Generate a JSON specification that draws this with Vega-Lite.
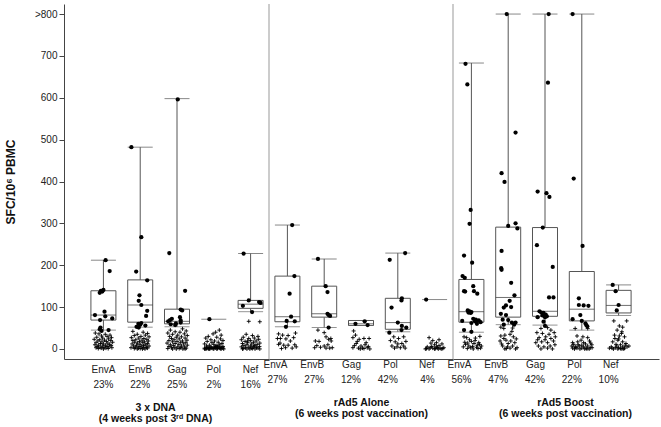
{
"$schema": "https://vega.github.io/schema/vega-lite/v6.json",
"background": "white",
"padding": {"left": 4, "top": 3, "right": 2, "bottom": 3},
"spacing": 0,
"bounds": "flush",
"config": {
  "view": {"stroke": null},
  "font": "Liberation Sans, sans-serif",
  "axis": {"labelFont": "Liberation Sans, sans-serif", "labelFontSize": 10, "labelColor": "#222", "domainColor": "#444", "tickColor": "#444", "grid": false, "titleFont": "Liberation Sans, sans-serif", "titleFontWeight": "bold", "titleColor": "#111", "titleFontSize": 10.5}
},
"datasets": {
"b1": [
{"k":"EnvA|23%","lo":45,"q1":69,"med":81,"q3":139,"hi":212},
{"k":"EnvB|22%","lo":52,"q1":64,"med":105,"q3":165,"hi":482},
{"k":"Gag|25%","lo":53,"q1":60,"med":66,"q3":95,"hi":598},
{"k":"Pol|2%","lo":null,"q1":null,"med":null,"q3":null,"hi":71},
{"k":"Nef|16%","lo":89,"q1":97,"med":107,"q3":116,"hi":228}],
"b2": [
{"k":"EnvA|27%","lo":53,"q1":65,"med":77,"q3":174,"hi":296},
{"k":"EnvB|27%","lo":51,"q1":76,"med":84,"q3":150,"hi":215},
{"k":"Gag|12%","lo":56,"q1":56,"med":60,"q3":68,"hi":68},
{"k":"Pol|42%","lo":41,"q1":47,"med":63,"q3":121,"hi":229},
{"k":"Nef|4%","lo":null,"q1":null,"med":null,"q3":null,"hi":118}],
"b3": [
{"k":"EnvA|56%","lo":40,"q1":64,"med":89,"q3":166,"hi":683},
{"k":"EnvB|47%","lo":58,"q1":76,"med":123,"q3":291,"hi":800},
{"k":"Gag|42%","lo":57,"q1":78,"med":90,"q3":290,"hi":800},
{"k":"Pol|22%","lo":45,"q1":67,"med":95,"q3":185,"hi":800},
{"k":"Nef|10%","lo":80,"q1":86,"med":104,"q3":140,"hi":153}],
"p1": [
{"k":"EnvA|23%","v":212,"j":0.06,"r":1},{"k":"EnvA|23%","v":186,"j":0.17,"r":1},{"k":"EnvA|23%","v":141,"j":0,"r":1},{"k":"EnvA|23%","v":139,"j":-0.07,"r":1},{"k":"EnvA|23%","v":137,"j":-0.03,"r":1},{"k":"EnvA|23%","v":134,"j":-0.1,"r":1},{"k":"EnvA|23%","v":89,"j":0.03,"r":1},{"k":"EnvA|23%","v":81,"j":-0.23,"r":1},{"k":"EnvA|23%","v":78,"j":0.05,"r":1},{"k":"EnvA|23%","v":73,"j":0.24,"r":1},{"k":"EnvA|23%","v":69,"j":-0.09,"r":1},{"k":"EnvA|23%","v":51,"j":-0.08,"r":1},{"k":"EnvA|23%","v":47,"j":-0.1,"r":1},{"k":"EnvA|23%","v":45,"j":0.14,"r":1},{"k":"EnvA|23%","v":43,"j":-0.05,"r":1},
{"k":"EnvA|23%","v":38,"j":-0.22,"r":0},{"k":"EnvA|23%","v":36,"j":-0.12,"r":0},{"k":"EnvA|23%","v":35,"j":0.05,"r":0},{"k":"EnvA|23%","v":33,"j":0.18,"r":0},{"k":"EnvA|23%","v":31,"j":-0.05,"r":0},{"k":"EnvA|23%","v":30,"j":0.1,"r":0},{"k":"EnvA|23%","v":28,"j":-0.18,"r":0},{"k":"EnvA|23%","v":27,"j":0.22,"r":0},{"k":"EnvA|23%","v":26,"j":-0.02,"r":0},{"k":"EnvA|23%","v":24,"j":0.14,"r":0},{"k":"EnvA|23%","v":23,"j":-0.25,"r":0},{"k":"EnvA|23%","v":22,"j":-0.1,"r":0},{"k":"EnvA|23%","v":21,"j":0.03,"r":0},{"k":"EnvA|23%","v":20,"j":0.2,"r":0},{"k":"EnvA|23%","v":19,"j":-0.15,"r":0},{"k":"EnvA|23%","v":18,"j":0.08,"r":0},{"k":"EnvA|23%","v":17,"j":-0.04,"r":0},{"k":"EnvA|23%","v":16,"j":0.25,"r":0},{"k":"EnvA|23%","v":15,"j":-0.2,"r":0},{"k":"EnvA|23%","v":14,"j":0.12,"r":0},{"k":"EnvA|23%","v":13,"j":-0.08,"r":0},{"k":"EnvA|23%","v":12,"j":0,"r":0},{"k":"EnvA|23%","v":11,"j":0.17,"r":0},{"k":"EnvA|23%","v":10,"j":-0.23,"r":0},{"k":"EnvA|23%","v":9,"j":-0.13,"r":0},{"k":"EnvA|23%","v":9,"j":0.06,"r":0},{"k":"EnvA|23%","v":8,"j":0.21,"r":0},{"k":"EnvA|23%","v":7,"j":-0.03,"r":0},{"k":"EnvA|23%","v":6,"j":0.1,"r":0},{"k":"EnvA|23%","v":6,"j":-0.17,"r":0},{"k":"EnvA|23%","v":5,"j":0.15,"r":0},{"k":"EnvA|23%","v":4,"j":-0.09,"r":0},{"k":"EnvA|23%","v":4,"j":0.02,"r":0},{"k":"EnvA|23%","v":3,"j":0.23,"r":0},{"k":"EnvA|23%","v":3,"j":-0.2,"r":0},{"k":"EnvA|23%","v":2,"j":0.07,"r":0},{"k":"EnvA|23%","v":2,"j":-0.06,"r":0},{"k":"EnvA|23%","v":1,"j":0.13,"r":0},{"k":"EnvA|23%","v":1,"j":-0.14,"r":0},{"k":"EnvA|23%","v":0,"j":0,"r":0},
{"k":"EnvB|22%","v":482,"j":-0.24,"r":1},{"k":"EnvB|22%","v":267,"j":0.03,"r":1},{"k":"EnvB|22%","v":185,"j":-0.11,"r":1},{"k":"EnvB|22%","v":164,"j":0.19,"r":1},{"k":"EnvB|22%","v":128,"j":-0.02,"r":1},{"k":"EnvB|22%","v":115,"j":-0.04,"r":1},{"k":"EnvB|22%","v":105,"j":0.03,"r":1},{"k":"EnvB|22%","v":91,"j":0.19,"r":1},{"k":"EnvB|22%","v":79,"j":0.16,"r":1},{"k":"EnvB|22%","v":62,"j":0.03,"r":1},{"k":"EnvB|22%","v":60,"j":-0.05,"r":1},{"k":"EnvB|22%","v":58,"j":0,"r":1},{"k":"EnvB|22%","v":56,"j":0.14,"r":1},{"k":"EnvB|22%","v":53,"j":-0.1,"r":1},{"k":"EnvB|22%","v":51,"j":-0.04,"r":1},
{"k":"EnvB|22%","v":42,"j":-0.2,"r":0},{"k":"EnvB|22%","v":40,"j":0.08,"r":0},{"k":"EnvB|22%","v":37,"j":0.2,"r":0},{"k":"EnvB|22%","v":35,"j":-0.08,"r":0},{"k":"EnvB|22%","v":33,"j":0.14,"r":0},{"k":"EnvB|22%","v":32,"j":-0.16,"r":0},{"k":"EnvB|22%","v":30,"j":0.02,"r":0},{"k":"EnvB|22%","v":29,"j":0.24,"r":0},{"k":"EnvB|22%","v":27,"j":-0.24,"r":0},{"k":"EnvB|22%","v":26,"j":-0.04,"r":0},{"k":"EnvB|22%","v":25,"j":0.1,"r":0},{"k":"EnvB|22%","v":23,"j":0.18,"r":0},{"k":"EnvB|22%","v":22,"j":-0.12,"r":0},{"k":"EnvB|22%","v":21,"j":0.05,"r":0},{"k":"EnvB|22%","v":20,"j":-0.2,"r":0},{"k":"EnvB|22%","v":19,"j":0.22,"r":0},{"k":"EnvB|22%","v":18,"j":-0.02,"r":0},{"k":"EnvB|22%","v":17,"j":0.12,"r":0},{"k":"EnvB|22%","v":16,"j":-0.15,"r":0},{"k":"EnvB|22%","v":15,"j":0.07,"r":0},{"k":"EnvB|22%","v":14,"j":-0.07,"r":0},{"k":"EnvB|22%","v":13,"j":0.2,"r":0},{"k":"EnvB|22%","v":12,"j":-0.22,"r":0},{"k":"EnvB|22%","v":11,"j":0,"r":0},{"k":"EnvB|22%","v":10,"j":0.15,"r":0},{"k":"EnvB|22%","v":9,"j":-0.1,"r":0},{"k":"EnvB|22%","v":8,"j":0.09,"r":0},{"k":"EnvB|22%","v":7,"j":-0.18,"r":0},{"k":"EnvB|22%","v":7,"j":0.24,"r":0},{"k":"EnvB|22%","v":6,"j":-0.03,"r":0},{"k":"EnvB|22%","v":5,"j":0.04,"r":0},{"k":"EnvB|22%","v":4,"j":0.17,"r":0},{"k":"EnvB|22%","v":4,"j":-0.13,"r":0},{"k":"EnvB|22%","v":3,"j":-0.25,"r":0},{"k":"EnvB|22%","v":3,"j":0.1,"r":0},{"k":"EnvB|22%","v":2,"j":-0.05,"r":0},{"k":"EnvB|22%","v":2,"j":0.2,"r":0},{"k":"EnvB|22%","v":1,"j":0,"r":0},{"k":"EnvB|22%","v":1,"j":-0.16,"r":0},{"k":"EnvB|22%","v":0,"j":0.13,"r":0},{"k":"EnvB|22%","v":0,"j":-0.08,"r":0},{"k":"EnvB|22%","v":0,"j":0.06,"r":0},
{"k":"Gag|25%","v":596,"j":0.02,"r":1},{"k":"Gag|25%","v":229,"j":-0.21,"r":1},{"k":"Gag|25%","v":139,"j":0.22,"r":1},{"k":"Gag|25%","v":94,"j":0.1,"r":1},{"k":"Gag|25%","v":92,"j":0.14,"r":1},{"k":"Gag|25%","v":76,"j":0.08,"r":1},{"k":"Gag|25%","v":72,"j":-0.14,"r":1},{"k":"Gag|25%","v":69,"j":-0.19,"r":1},{"k":"Gag|25%","v":68,"j":0.1,"r":1},{"k":"Gag|25%","v":66,"j":-0.24,"r":1},{"k":"Gag|25%","v":63,"j":0.1,"r":1},{"k":"Gag|25%","v":61,"j":-0.03,"r":1},{"k":"Gag|25%","v":59,"j":-0.17,"r":1},{"k":"Gag|25%","v":57,"j":-0.05,"r":1},
{"k":"Gag|25%","v":48,"j":0.15,"r":0},{"k":"Gag|25%","v":45,"j":-0.18,"r":0},{"k":"Gag|25%","v":43,"j":0.25,"r":0},{"k":"Gag|25%","v":41,"j":-0.05,"r":0},{"k":"Gag|25%","v":40,"j":0.08,"r":0},{"k":"Gag|25%","v":38,"j":-0.25,"r":0},{"k":"Gag|25%","v":36,"j":0.2,"r":0},{"k":"Gag|25%","v":35,"j":-0.12,"r":0},{"k":"Gag|25%","v":33,"j":0.02,"r":0},{"k":"Gag|25%","v":32,"j":0.28,"r":0},{"k":"Gag|25%","v":30,"j":-0.2,"r":0},{"k":"Gag|25%","v":29,"j":0.12,"r":0},{"k":"Gag|25%","v":28,"j":-0.02,"r":0},{"k":"Gag|25%","v":26,"j":0.22,"r":0},{"k":"Gag|25%","v":25,"j":-0.15,"r":0},{"k":"Gag|25%","v":24,"j":0.06,"r":0},{"k":"Gag|25%","v":22,"j":-0.08,"r":0},{"k":"Gag|25%","v":21,"j":0.27,"r":0},{"k":"Gag|25%","v":20,"j":-0.22,"r":0},{"k":"Gag|25%","v":19,"j":0.15,"r":0},{"k":"Gag|25%","v":18,"j":0,"r":0},{"k":"Gag|25%","v":17,"j":-0.12,"r":0},{"k":"Gag|25%","v":16,"j":0.1,"r":0},{"k":"Gag|25%","v":15,"j":0.24,"r":0},{"k":"Gag|25%","v":14,"j":-0.27,"r":0},{"k":"Gag|25%","v":13,"j":-0.05,"r":0},{"k":"Gag|25%","v":12,"j":0.18,"r":0},{"k":"Gag|25%","v":11,"j":0.05,"r":0},{"k":"Gag|25%","v":10,"j":-0.18,"r":0},{"k":"Gag|25%","v":9,"j":0.28,"r":0},{"k":"Gag|25%","v":8,"j":-0.1,"r":0},{"k":"Gag|25%","v":7,"j":0.12,"r":0},{"k":"Gag|25%","v":6,"j":-0.22,"r":0},{"k":"Gag|25%","v":5,"j":0.02,"r":0},{"k":"Gag|25%","v":5,"j":0.2,"r":0},{"k":"Gag|25%","v":4,"j":-0.06,"r":0},{"k":"Gag|25%","v":3,"j":0.1,"r":0},{"k":"Gag|25%","v":3,"j":-0.15,"r":0},{"k":"Gag|25%","v":2,"j":0.25,"r":0},{"k":"Gag|25%","v":1,"j":-0.25,"r":0},{"k":"Gag|25%","v":1,"j":0.06,"r":0},{"k":"Gag|25%","v":0,"j":-0.02,"r":0},{"k":"Gag|25%","v":0,"j":0.16,"r":0},{"k":"Gag|25%","v":0,"j":-0.12,"r":0},{"k":"Gag|25%","v":0,"j":0.22,"r":0},
{"k":"Pol|2%","v":71,"j":-0.12,"r":1},
{"k":"Pol|2%","v":45,"j":0.15,"r":0},{"k":"Pol|2%","v":40,"j":0.05,"r":0},{"k":"Pol|2%","v":36,"j":-0.02,"r":0},{"k":"Pol|2%","v":33,"j":0.2,"r":0},{"k":"Pol|2%","v":30,"j":-0.15,"r":0},{"k":"Pol|2%","v":28,"j":0.08,"r":0},{"k":"Pol|2%","v":26,"j":-0.22,"r":0},{"k":"Pol|2%","v":24,"j":0.18,"r":0},{"k":"Pol|2%","v":22,"j":-0.08,"r":0},{"k":"Pol|2%","v":20,"j":0.25,"r":0},{"k":"Pol|2%","v":19,"j":0.02,"r":0},{"k":"Pol|2%","v":18,"j":-0.18,"r":0},{"k":"Pol|2%","v":16,"j":0.12,"r":0},{"k":"Pol|2%","v":15,"j":-0.05,"r":0},{"k":"Pol|2%","v":13,"j":0.22,"r":0},{"k":"Pol|2%","v":12,"j":-0.25,"r":0},{"k":"Pol|2%","v":11,"j":0,"r":0},{"k":"Pol|2%","v":10,"j":0.15,"r":0},{"k":"Pol|2%","v":9,"j":-0.12,"r":0},{"k":"Pol|2%","v":8,"j":0.08,"r":0},{"k":"Pol|2%","v":7,"j":-0.2,"r":0},{"k":"Pol|2%","v":6,"j":0.25,"r":0},{"k":"Pol|2%","v":6,"j":0.04,"r":0},{"k":"Pol|2%","v":5,"j":-0.08,"r":0},{"k":"Pol|2%","v":5,"j":0.17,"r":0},{"k":"Pol|2%","v":2,"j":-0.25,"r":0},{"k":"Pol|2%","v":1,"j":-0.2,"r":0},{"k":"Pol|2%","v":3,"j":-0.15,"r":0},{"k":"Pol|2%","v":1,"j":-0.1,"r":0},{"k":"Pol|2%","v":2,"j":-0.05,"r":0},{"k":"Pol|2%","v":0,"j":0,"r":0},{"k":"Pol|2%","v":3,"j":0.05,"r":0},{"k":"Pol|2%","v":1,"j":0.1,"r":0},{"k":"Pol|2%","v":2,"j":0.15,"r":0},{"k":"Pol|2%","v":0,"j":0.2,"r":0},{"k":"Pol|2%","v":2,"j":0.25,"r":0},{"k":"Pol|2%","v":0,"j":-0.22,"r":0},{"k":"Pol|2%","v":0,"j":-0.12,"r":0},{"k":"Pol|2%","v":1,"j":-0.02,"r":0},{"k":"Pol|2%","v":0,"j":0.08,"r":0},{"k":"Pol|2%","v":1,"j":0.18,"r":0},{"k":"Pol|2%","v":4,"j":-0.18,"r":0},{"k":"Pol|2%","v":4,"j":0.12,"r":0},{"k":"Pol|2%","v":4,"j":0.02,"r":0},{"k":"Pol|2%","v":3,"j":-0.07,"r":0},{"k":"Pol|2%","v":3,"j":0.22,"r":0},{"k":"Pol|2%","v":0,"j":-0.25,"r":0},{"k":"Pol|2%","v":0,"j":0.27,"r":0},{"k":"Pol|2%","v":0,"j":-0.15,"r":0},{"k":"Pol|2%","v":5,"j":0.1,"r":0},
{"k":"Nef|16%","v":228,"j":-0.19,"r":1},{"k":"Nef|16%","v":116,"j":-0.05,"r":1},{"k":"Nef|16%","v":112,"j":0.23,"r":1},{"k":"Nef|16%","v":110,"j":0.27,"r":1},{"k":"Nef|16%","v":103,"j":-0.21,"r":1},{"k":"Nef|16%","v":88,"j":0.04,"r":1},
{"k":"Nef|16%","v":66,"j":-0.05,"r":0},{"k":"Nef|16%","v":65,"j":0.25,"r":0},{"k":"Nef|16%","v":35,"j":-0.12,"r":0},{"k":"Nef|16%","v":32,"j":0.05,"r":0},{"k":"Nef|16%","v":30,"j":0.2,"r":0},{"k":"Nef|16%","v":28,"j":-0.2,"r":0},{"k":"Nef|16%","v":26,"j":0.1,"r":0},{"k":"Nef|16%","v":25,"j":-0.05,"r":0},{"k":"Nef|16%","v":23,"j":0.22,"r":0},{"k":"Nef|16%","v":22,"j":-0.25,"r":0},{"k":"Nef|16%","v":20,"j":0,"r":0},{"k":"Nef|16%","v":19,"j":0.15,"r":0},{"k":"Nef|16%","v":18,"j":-0.15,"r":0},{"k":"Nef|16%","v":16,"j":0.08,"r":0},{"k":"Nef|16%","v":15,"j":-0.08,"r":0},{"k":"Nef|16%","v":14,"j":0.25,"r":0},{"k":"Nef|16%","v":13,"j":-0.22,"r":0},{"k":"Nef|16%","v":12,"j":0.03,"r":0},{"k":"Nef|16%","v":11,"j":0.18,"r":0},{"k":"Nef|16%","v":10,"j":-0.1,"r":0},{"k":"Nef|16%","v":9,"j":0.12,"r":0},{"k":"Nef|16%","v":8,"j":-0.18,"r":0},{"k":"Nef|16%","v":7,"j":0,"r":0},{"k":"Nef|16%","v":6,"j":0.24,"r":0},{"k":"Nef|16%","v":5,"j":-0.25,"r":0},{"k":"Nef|16%","v":5,"j":0.08,"r":0},{"k":"Nef|16%","v":4,"j":-0.05,"r":0},{"k":"Nef|16%","v":3,"j":0.16,"r":0},{"k":"Nef|16%","v":3,"j":-0.14,"r":0},{"k":"Nef|16%","v":2,"j":0.2,"r":0},{"k":"Nef|16%","v":1,"j":-0.2,"r":0},{"k":"Nef|16%","v":1,"j":0.05,"r":0},{"k":"Nef|16%","v":0,"j":-0.02,"r":0},{"k":"Nef|16%","v":0,"j":0.12,"r":0},{"k":"Nef|16%","v":0,"j":-0.1,"r":0},{"k":"Nef|16%","v":0,"j":0.25,"r":0},{"k":"Nef|16%","v":0,"j":-0.22,"r":0},{"k":"Nef|16%","v":2,"j":0.02,"r":0},{"k":"Nef|16%","v":7,"j":0.1,"r":0},{"k":"Nef|16%","v":19,"j":-0.08,"r":0}],
"p2": [
{"k":"EnvA|27%","v":296,"j":0.13,"r":1},{"k":"EnvA|27%","v":174,"j":0.19,"r":1},{"k":"EnvA|27%","v":132,"j":0.06,"r":1},{"k":"EnvA|27%","v":77,"j":0.1,"r":1},{"k":"EnvA|27%","v":67,"j":-0.02,"r":1},{"k":"EnvA|27%","v":66,"j":0.2,"r":1},{"k":"EnvA|27%","v":53,"j":-0.04,"r":1},
{"k":"EnvA|27%","v":36,"j":-0.24,"r":0},{"k":"EnvA|27%","v":33,"j":-0.13,"r":0},{"k":"EnvA|27%","v":32,"j":0.02,"r":0},{"k":"EnvA|27%","v":38,"j":0.22,"r":0},{"k":"EnvA|27%","v":25,"j":-0.27,"r":0},{"k":"EnvA|27%","v":25,"j":-0.19,"r":0},{"k":"EnvA|27%","v":24,"j":-0.04,"r":0},{"k":"EnvA|27%","v":27,"j":0.17,"r":0},{"k":"EnvA|27%","v":19,"j":0.08,"r":0},{"k":"EnvA|27%","v":11,"j":-0.24,"r":0},{"k":"EnvA|27%","v":9,"j":-0.1,"r":0},{"k":"EnvA|27%","v":9,"j":0.02,"r":0},{"k":"EnvA|27%","v":10,"j":0.2,"r":0},{"k":"EnvA|27%","v":3,"j":-0.05,"r":0},{"k":"EnvA|27%","v":2,"j":0.13,"r":0},{"k":"EnvA|27%","v":1,"j":-0.16,"r":0},{"k":"EnvA|27%","v":5,"j":0.24,"r":0},{"k":"EnvA|27%","v":14,"j":-0.2,"r":0},
{"k":"EnvB|27%","v":215,"j":-0.17,"r":1},{"k":"EnvB|27%","v":150,"j":0.04,"r":1},{"k":"EnvB|27%","v":136,"j":0.09,"r":1},{"k":"EnvB|27%","v":84,"j":0.09,"r":1},{"k":"EnvB|27%","v":81,"j":0.12,"r":1},{"k":"EnvB|27%","v":79,"j":0.16,"r":1},{"k":"EnvB|27%","v":51,"j":0.12,"r":1},
{"k":"EnvB|27%","v":45,"j":-0.17,"r":0},{"k":"EnvB|27%","v":39,"j":0,"r":0},{"k":"EnvB|27%","v":19,"j":-0.24,"r":0},{"k":"EnvB|27%","v":18,"j":-0.14,"r":0},{"k":"EnvB|27%","v":29,"j":0.05,"r":0},{"k":"EnvB|27%","v":23,"j":0.12,"r":0},{"k":"EnvB|27%","v":19,"j":0.19,"r":0},{"k":"EnvB|27%","v":3,"j":-0.26,"r":0},{"k":"EnvB|27%","v":4,"j":-0.1,"r":0},{"k":"EnvB|27%","v":7,"j":0,"r":0},{"k":"EnvB|27%","v":2,"j":0.05,"r":0},{"k":"EnvB|27%","v":2,"j":0.15,"r":0},{"k":"EnvB|27%","v":3,"j":0.22,"r":0},{"k":"EnvB|27%","v":10,"j":0.1,"r":0},{"k":"EnvB|27%","v":8,"j":-0.2,"r":0},{"k":"EnvB|27%","v":25,"j":0.18,"r":0},
{"k":"Gag|12%","v":66,"j":0.1,"r":1},{"k":"Gag|12%","v":60,"j":-0.15,"r":1},{"k":"Gag|12%","v":57,"j":0.18,"r":1},
{"k":"Gag|12%","v":43,"j":-0.2,"r":0},{"k":"Gag|12%","v":33,"j":-0.15,"r":0},{"k":"Gag|12%","v":27,"j":-0.22,"r":0},{"k":"Gag|12%","v":23,"j":-0.05,"r":0},{"k":"Gag|12%","v":25,"j":0.08,"r":0},{"k":"Gag|12%","v":25,"j":0.22,"r":0},{"k":"Gag|12%","v":13,"j":-0.13,"r":0},{"k":"Gag|12%","v":7,"j":0,"r":0},{"k":"Gag|12%","v":10,"j":0.11,"r":0},{"k":"Gag|12%","v":3,"j":0.17,"r":0},{"k":"Gag|12%","v":2,"j":0.04,"r":0},{"k":"Gag|12%","v":3,"j":-0.22,"r":0},{"k":"Gag|12%","v":2,"j":-0.07,"r":0},{"k":"Gag|12%","v":6,"j":0.2,"r":0},{"k":"Gag|12%","v":1,"j":0.08,"r":0},{"k":"Gag|12%","v":18,"j":-0.1,"r":0},{"k":"Gag|12%","v":15,"j":0.14,"r":0},{"k":"Gag|12%","v":0,"j":-0.02,"r":0},{"k":"Gag|12%","v":0,"j":0.24,"r":0},{"k":"Gag|12%","v":8,"j":-0.18,"r":0},
{"k":"Pol|42%","v":229,"j":0.2,"r":1},{"k":"Pol|42%","v":213,"j":-0.22,"r":1},{"k":"Pol|42%","v":121,"j":0.11,"r":1},{"k":"Pol|42%","v":116,"j":0.1,"r":1},{"k":"Pol|42%","v":99,"j":-0.17,"r":1},{"k":"Pol|42%","v":63,"j":0,"r":1},{"k":"Pol|42%","v":55,"j":0.11,"r":1},{"k":"Pol|42%","v":51,"j":0.23,"r":1},{"k":"Pol|42%","v":45,"j":0.1,"r":1},{"k":"Pol|42%","v":39,"j":-0.23,"r":1},
{"k":"Pol|42%","v":29,"j":-0.11,"r":0},{"k":"Pol|42%","v":25,"j":0.02,"r":0},{"k":"Pol|42%","v":29,"j":0.16,"r":0},{"k":"Pol|42%","v":17,"j":-0.07,"r":0},{"k":"Pol|42%","v":13,"j":0.11,"r":0},{"k":"Pol|42%","v":7,"j":-0.16,"r":0},{"k":"Pol|42%","v":5,"j":-0.02,"r":0},{"k":"Pol|42%","v":3,"j":0.07,"r":0},{"k":"Pol|42%","v":7,"j":0.16,"r":0},{"k":"Pol|42%","v":2,"j":-0.09,"r":0},{"k":"Pol|42%","v":2,"j":0.2,"r":0},{"k":"Pol|42%","v":12,"j":0,"r":0},{"k":"Pol|42%","v":20,"j":-0.2,"r":0},{"k":"Pol|42%","v":18,"j":0.22,"r":0},
{"k":"Nef|4%","v":118,"j":-0.23,"r":1},
{"k":"Nef|4%","v":27,"j":-0.15,"r":0},{"k":"Nef|4%","v":20,"j":-0.05,"r":0},{"k":"Nef|4%","v":22,"j":0.12,"r":0},{"k":"Nef|4%","v":14,"j":-0.1,"r":0},{"k":"Nef|4%","v":10,"j":0,"r":0},{"k":"Nef|4%","v":12,"j":0.2,"r":0},{"k":"Nef|4%","v":5,"j":-0.2,"r":0},{"k":"Nef|4%","v":3,"j":-0.12,"r":0},{"k":"Nef|4%","v":2,"j":-0.05,"r":0},{"k":"Nef|4%","v":1,"j":0.02,"r":0},{"k":"Nef|4%","v":3,"j":0.08,"r":0},{"k":"Nef|4%","v":2,"j":0.15,"r":0},{"k":"Nef|4%","v":1,"j":0.22,"r":0},{"k":"Nef|4%","v":3,"j":0.25,"r":0},{"k":"Nef|4%","v":1,"j":-0.22,"r":0},{"k":"Nef|4%","v":0,"j":0,"r":0},{"k":"Nef|4%","v":0,"j":0.1,"r":0},{"k":"Nef|4%","v":0,"j":-0.15,"r":0},{"k":"Nef|4%","v":0,"j":0.18,"r":0},{"k":"Nef|4%","v":6,"j":-0.08,"r":0},{"k":"Nef|4%","v":5,"j":0.05,"r":0},{"k":"Nef|4%","v":8,"j":0.12,"r":0},{"k":"Nef|4%","v":0,"j":-0.25,"r":0},{"k":"Nef|4%","v":15,"j":0.05,"r":0}],
"p3": [
{"k":"EnvA|56%","v":681,"j":-0.16,"r":1},{"k":"EnvA|56%","v":632,"j":-0.11,"r":1},{"k":"EnvA|56%","v":332,"j":-0.02,"r":1},{"k":"EnvA|56%","v":299,"j":-0.05,"r":1},{"k":"EnvA|56%","v":223,"j":-0.2,"r":1},{"k":"EnvA|56%","v":206,"j":0.02,"r":1},{"k":"EnvA|56%","v":174,"j":-0.24,"r":1},{"k":"EnvA|56%","v":170,"j":-0.18,"r":1},{"k":"EnvA|56%","v":150,"j":0.05,"r":1},{"k":"EnvA|56%","v":138,"j":-0.2,"r":1},{"k":"EnvA|56%","v":137,"j":-0.17,"r":1},{"k":"EnvA|56%","v":138,"j":0.07,"r":1},{"k":"EnvA|56%","v":132,"j":0.16,"r":1},{"k":"EnvA|56%","v":92,"j":-0.1,"r":1},{"k":"EnvA|56%","v":90,"j":-0.05,"r":1},{"k":"EnvA|56%","v":88,"j":0,"r":1},{"k":"EnvA|56%","v":87,"j":-0.08,"r":1},{"k":"EnvA|56%","v":86,"j":-0.02,"r":1},{"k":"EnvA|56%","v":72,"j":0.05,"r":1},{"k":"EnvA|56%","v":70,"j":0.12,"r":1},{"k":"EnvA|56%","v":68,"j":0.2,"r":1},{"k":"EnvA|56%","v":67,"j":-0.25,"r":1},{"k":"EnvA|56%","v":66,"j":0.1,"r":1},{"k":"EnvA|56%","v":64,"j":0.25,"r":1},{"k":"EnvA|56%","v":62,"j":0,"r":1},{"k":"EnvA|56%","v":60,"j":0.15,"r":1},{"k":"EnvA|56%","v":45,"j":-0.2,"r":1},{"k":"EnvA|56%","v":41,"j":0,"r":1},
{"k":"EnvA|56%","v":29,"j":-0.2,"r":0},{"k":"EnvA|56%","v":27,"j":-0.13,"r":0},{"k":"EnvA|56%","v":26,"j":0.11,"r":0},{"k":"EnvA|56%","v":30,"j":0.23,"r":0},{"k":"EnvA|56%","v":11,"j":-0.16,"r":0},{"k":"EnvA|56%","v":7,"j":-0.07,"r":0},{"k":"EnvA|56%","v":13,"j":0.07,"r":0},{"k":"EnvA|56%","v":15,"j":0.2,"r":0},{"k":"EnvA|56%","v":3,"j":-0.02,"r":0},{"k":"EnvA|56%","v":4,"j":0.14,"r":0},{"k":"EnvA|56%","v":7,"j":0.27,"r":0},{"k":"EnvA|56%","v":1,"j":-0.11,"r":0},{"k":"EnvA|56%","v":0,"j":0.05,"r":0},{"k":"EnvA|56%","v":1,"j":0.18,"r":0},{"k":"EnvA|56%","v":2,"j":0.25,"r":0},{"k":"EnvA|56%","v":5,"j":-0.22,"r":0},{"k":"EnvA|56%","v":18,"j":0,"r":0},{"k":"EnvA|56%","v":20,"j":0.1,"r":0},{"k":"EnvA|56%","v":22,"j":-0.05,"r":0},{"k":"EnvA|56%","v":9,"j":0.16,"r":0},{"k":"EnvA|56%","v":16,"j":-0.18,"r":0},{"k":"EnvA|56%","v":6,"j":0.03,"r":0},{"k":"EnvA|56%","v":11,"j":0.22,"r":0},{"k":"EnvA|56%","v":14,"j":-0.1,"r":0},
{"k":"EnvB|47%","v":800,"j":-0.04,"r":1},{"k":"EnvB|47%","v":517,"j":0.2,"r":1},{"k":"EnvB|47%","v":420,"j":-0.18,"r":1},{"k":"EnvB|47%","v":399,"j":-0.1,"r":1},{"k":"EnvB|47%","v":300,"j":0.2,"r":1},{"k":"EnvB|47%","v":294,"j":0,"r":1},{"k":"EnvB|47%","v":288,"j":0.25,"r":1},{"k":"EnvB|47%","v":234,"j":-0.18,"r":1},{"k":"EnvB|47%","v":193,"j":-0.19,"r":1},{"k":"EnvB|47%","v":189,"j":-0.18,"r":1},{"k":"EnvB|47%","v":158,"j":0.08,"r":1},{"k":"EnvB|47%","v":128,"j":0.17,"r":1},{"k":"EnvB|47%","v":115,"j":0.04,"r":1},{"k":"EnvB|47%","v":104,"j":-0.06,"r":1},{"k":"EnvB|47%","v":100,"j":0.08,"r":1},{"k":"EnvB|47%","v":99,"j":-0.12,"r":1},{"k":"EnvB|47%","v":84,"j":-0.2,"r":1},{"k":"EnvB|47%","v":81,"j":-0.06,"r":1},{"k":"EnvB|47%","v":70,"j":-0.15,"r":1},{"k":"EnvB|47%","v":69,"j":0,"r":1},{"k":"EnvB|47%","v":63,"j":0.1,"r":1},{"k":"EnvB|47%","v":63,"j":0.2,"r":1},{"k":"EnvB|47%","v":58,"j":-0.12,"r":1},{"k":"EnvB|47%","v":58,"j":0.16,"r":1},
{"k":"EnvB|47%","v":52,"j":-0.2,"r":0},{"k":"EnvB|47%","v":49,"j":-0.12,"r":0},{"k":"EnvB|47%","v":50,"j":0.12,"r":0},{"k":"EnvB|47%","v":31,"j":-0.2,"r":0},{"k":"EnvB|47%","v":33,"j":-0.09,"r":0},{"k":"EnvB|47%","v":35,"j":0.05,"r":0},{"k":"EnvB|47%","v":29,"j":0.14,"r":0},{"k":"EnvB|47%","v":19,"j":-0.22,"r":0},{"k":"EnvB|47%","v":21,"j":-0.06,"r":0},{"k":"EnvB|47%","v":19,"j":0.07,"r":0},{"k":"EnvB|47%","v":15,"j":0.18,"r":0},{"k":"EnvB|47%","v":7,"j":-0.15,"r":0},{"k":"EnvB|47%","v":5,"j":-0.02,"r":0},{"k":"EnvB|47%","v":7,"j":0.12,"r":0},{"k":"EnvB|47%","v":3,"j":0.24,"r":0},{"k":"EnvB|47%","v":0,"j":-0.09,"r":0},{"k":"EnvB|47%","v":2,"j":0.05,"r":0},{"k":"EnvB|47%","v":0,"j":0.2,"r":0},{"k":"EnvB|47%","v":12,"j":-0.18,"r":0},{"k":"EnvB|47%","v":13,"j":0,"r":0},{"k":"EnvB|47%","v":24,"j":0.22,"r":0},{"k":"EnvB|47%","v":25,"j":-0.12,"r":0},{"k":"EnvB|47%","v":42,"j":0.1,"r":0},{"k":"EnvB|47%","v":1,"j":-0.05,"r":0},
{"k":"Gag|42%","v":800,"j":0.1,"r":1},{"k":"Gag|42%","v":636,"j":0.08,"r":1},{"k":"Gag|42%","v":376,"j":-0.2,"r":1},{"k":"Gag|42%","v":372,"j":0.04,"r":1},{"k":"Gag|42%","v":363,"j":0.12,"r":1},{"k":"Gag|42%","v":290,"j":-0.06,"r":1},{"k":"Gag|42%","v":248,"j":-0.22,"r":1},{"k":"Gag|42%","v":196,"j":0.21,"r":1},{"k":"Gag|42%","v":123,"j":0.11,"r":1},{"k":"Gag|42%","v":123,"j":0.23,"r":1},{"k":"Gag|42%","v":90,"j":-0.15,"r":1},{"k":"Gag|42%","v":87,"j":-0.1,"r":1},{"k":"Gag|42%","v":86,"j":-0.04,"r":1},{"k":"Gag|42%","v":82,"j":0.02,"r":1},{"k":"Gag|42%","v":80,"j":-0.07,"r":1},{"k":"Gag|42%","v":78,"j":0.05,"r":1},{"k":"Gag|42%","v":76,"j":-0.2,"r":1},{"k":"Gag|42%","v":76,"j":0,"r":1},{"k":"Gag|42%","v":65,"j":-0.04,"r":1},{"k":"Gag|42%","v":55,"j":0,"r":1},
{"k":"Gag|42%","v":49,"j":-0.11,"r":0},{"k":"Gag|42%","v":51,"j":0.07,"r":0},{"k":"Gag|42%","v":45,"j":0.16,"r":0},{"k":"Gag|42%","v":39,"j":-0.22,"r":0},{"k":"Gag|42%","v":37,"j":-0.07,"r":0},{"k":"Gag|42%","v":35,"j":0.11,"r":0},{"k":"Gag|42%","v":39,"j":0.25,"r":0},{"k":"Gag|42%","v":27,"j":-0.16,"r":0},{"k":"Gag|42%","v":29,"j":0.02,"r":0},{"k":"Gag|42%","v":25,"j":0.16,"r":0},{"k":"Gag|42%","v":29,"j":0.28,"r":0},{"k":"Gag|42%","v":15,"j":-0.25,"r":0},{"k":"Gag|42%","v":17,"j":-0.09,"r":0},{"k":"Gag|42%","v":15,"j":0.07,"r":0},{"k":"Gag|42%","v":19,"j":0.23,"r":0},{"k":"Gag|42%","v":7,"j":-0.18,"r":0},{"k":"Gag|42%","v":5,"j":-0.03,"r":0},{"k":"Gag|42%","v":7,"j":0.14,"r":0},{"k":"Gag|42%","v":10,"j":0.27,"r":0},{"k":"Gag|42%","v":0,"j":-0.11,"r":0},{"k":"Gag|42%","v":2,"j":0.07,"r":0},{"k":"Gag|42%","v":0,"j":0.2,"r":0},{"k":"Gag|42%","v":22,"j":0,"r":0},{"k":"Gag|42%","v":22,"j":-0.2,"r":0},
{"k":"Pol|22%","v":800,"j":-0.25,"r":1},{"k":"Pol|22%","v":407,"j":-0.22,"r":1},{"k":"Pol|22%","v":246,"j":0.02,"r":1},{"k":"Pol|22%","v":121,"j":-0.08,"r":1},{"k":"Pol|22%","v":105,"j":-0.08,"r":1},{"k":"Pol|22%","v":104,"j":0.05,"r":1},{"k":"Pol|22%","v":103,"j":0.18,"r":1},{"k":"Pol|22%","v":81,"j":-0.04,"r":1},{"k":"Pol|22%","v":71,"j":-0.25,"r":1},{"k":"Pol|22%","v":67,"j":0,"r":1},{"k":"Pol|22%","v":61,"j":0.1,"r":1},{"k":"Pol|22%","v":57,"j":0.12,"r":1},{"k":"Pol|22%","v":54,"j":0.15,"r":1},
{"k":"Pol|22%","v":49,"j":-0.18,"r":0},{"k":"Pol|22%","v":49,"j":0.16,"r":0},{"k":"Pol|22%","v":31,"j":-0.13,"r":0},{"k":"Pol|22%","v":29,"j":0.03,"r":0},{"k":"Pol|22%","v":27,"j":0.16,"r":0},{"k":"Pol|22%","v":15,"j":-0.25,"r":0},{"k":"Pol|22%","v":17,"j":-0.11,"r":0},{"k":"Pol|22%","v":15,"j":0.05,"r":0},{"k":"Pol|22%","v":19,"j":0.21,"r":0},{"k":"Pol|22%","v":7,"j":-0.27,"r":0},{"k":"Pol|22%","v":5,"j":-0.18,"r":0},{"k":"Pol|22%","v":7,"j":-0.07,"r":0},{"k":"Pol|22%","v":5,"j":0.05,"r":0},{"k":"Pol|22%","v":7,"j":0.16,"r":0},{"k":"Pol|22%","v":10,"j":0.27,"r":0},{"k":"Pol|22%","v":2,"j":-0.25,"r":0},{"k":"Pol|22%","v":2,"j":-0.13,"r":0},{"k":"Pol|22%","v":2,"j":0,"r":0},{"k":"Pol|22%","v":2,"j":0.12,"r":0},{"k":"Pol|22%","v":3,"j":0.23,"r":0},{"k":"Pol|22%","v":3,"j":0.28,"r":0},{"k":"Pol|22%","v":0,"j":-0.2,"r":0},{"k":"Pol|22%","v":0,"j":-0.05,"r":0},{"k":"Pol|22%","v":0,"j":0.08,"r":0},{"k":"Pol|22%","v":0,"j":0.2,"r":0},{"k":"Pol|22%","v":10,"j":-0.1,"r":0},{"k":"Pol|22%","v":12,"j":0.1,"r":0},{"k":"Pol|22%","v":21,"j":-0.02,"r":0},{"k":"Pol|22%","v":14,"j":0.24,"r":0},{"k":"Pol|22%","v":11,"j":-0.22,"r":0},{"k":"Pol|22%","v":9,"j":0,"r":0},{"k":"Pol|22%","v":0,"j":0.14,"r":0},{"k":"Pol|22%","v":4,"j":-0.16,"r":0},
{"k":"Nef|10%","v":153,"j":-0.16,"r":1},{"k":"Nef|10%","v":138,"j":-0.08,"r":1},{"k":"Nef|10%","v":105,"j":0,"r":1},{"k":"Nef|10%","v":92,"j":-0.05,"r":1},
{"k":"Nef|10%","v":67,"j":-0.13,"r":0},{"k":"Nef|10%","v":67,"j":0.22,"r":0},{"k":"Nef|10%","v":55,"j":0.02,"r":0},{"k":"Nef|10%","v":52,"j":0.11,"r":0},{"k":"Nef|10%","v":45,"j":-0.04,"r":0},{"k":"Nef|10%","v":41,"j":0.09,"r":0},{"k":"Nef|10%","v":33,"j":-0.11,"r":0},{"k":"Nef|10%","v":31,"j":0.02,"r":0},{"k":"Nef|10%","v":29,"j":0.16,"r":0},{"k":"Nef|10%","v":21,"j":-0.02,"r":0},{"k":"Nef|10%","v":17,"j":-0.16,"r":0},{"k":"Nef|10%","v":17,"j":0.11,"r":0},{"k":"Nef|10%","v":11,"j":-0.07,"r":0},{"k":"Nef|10%","v":10,"j":0.05,"r":0},{"k":"Nef|10%","v":13,"j":0.2,"r":0},{"k":"Nef|10%","v":5,"j":-0.2,"r":0},{"k":"Nef|10%","v":3,"j":-0.09,"r":0},{"k":"Nef|10%","v":3,"j":0,"r":0},{"k":"Nef|10%","v":5,"j":0.11,"r":0},{"k":"Nef|10%","v":5,"j":0.23,"r":0},{"k":"Nef|10%","v":7,"j":0.28,"r":0},{"k":"Nef|10%","v":2,"j":-0.25,"r":0},{"k":"Nef|10%","v":0,"j":-0.02,"r":0},{"k":"Nef|10%","v":0,"j":0.09,"r":0},{"k":"Nef|10%","v":2,"j":0.16,"r":0},{"k":"Nef|10%","v":0,"j":-0.14,"r":0},{"k":"Nef|10%","v":1,"j":0.05,"r":0},{"k":"Nef|10%","v":7,"j":-0.05,"r":0},{"k":"Nef|10%","v":0,"j":0.14,"r":0},{"k":"Nef|10%","v":9,"j":0.18,"r":0},{"k":"Nef|10%","v":2,"j":-0.18,"r":0},{"k":"Nef|10%","v":24,"j":0,"r":0},{"k":"Nef|10%","v":37,"j":0.08,"r":0},{"k":"Nef|10%","v":25,"j":-0.1,"r":0}]
},
"hconcat": [
{
"width": 205, "height": 355,
"layer": [
{"data": {"name": "b1"}, "transform": [{"filter": "datum.q3 != null"}], "mark": {"type": "rule", "color": "#555"},
 "encoding": {"x": {"field": "k", "type": "nominal", "scale": {"domain": ["EnvA|23%","EnvB|22%","Gag|25%","Pol|2%","Nef|16%"], "paddingInner": 0, "paddingOuter": 0.2856, "align": 1},
   "axis": {"labelExpr": "split(datum.value, '|')", "labelAngle": 0, "ticks": false, "labelPadding": 5, "labelLineHeight": 15, "title": ["3 x DNA", "(4 weeks post 3ʳᵈ DNA)"], "titlePadding": 13, "titleLineHeight": 11, "titleX": 91, "titleAlign": "center"}},
  "y": {"field": "q3", "type": "quantitative", "scale": {"domain": [-24, 824], "nice": false, "zero": false},
   "axis": {"values": [0,100,200,300,400,500,600,700,800], "labelExpr": "datum.value == 800 ? '>800' : datum.label", "title": "SFC/10⁶ PBMC", "titleFontSize": 12, "tickSize": 5, "labelPadding": 2, "titlePadding": 17}},
  "y2": {"field": "hi"}}},
{"data": {"name": "b1"}, "transform": [{"filter": "datum.lo != null"}], "mark": {"type": "rule", "color": "#555"}, "encoding": {"x": {"field": "k", "type": "nominal"}, "y": {"field": "lo", "type": "quantitative"}, "y2": {"field": "q1"}}},
{"data": {"name": "b1"}, "transform": [{"filter": "datum.q1 != null"}], "mark": {"type": "bar", "size": 25, "fill": "white", "stroke": "#555", "strokeWidth": 1}, "encoding": {"x": {"field": "k", "type": "nominal"}, "y": {"field": "q1", "type": "quantitative"}, "y2": {"field": "q3"}}},
{"data": {"name": "b1"}, "mark": {"type": "tick", "size": 25, "thickness": 1, "color": "#555"}, "encoding": {"x": {"field": "k", "type": "nominal"}, "y": {"field": "hi", "type": "quantitative"}}},
{"data": {"name": "b1"}, "transform": [{"filter": "datum.lo != null"}], "mark": {"type": "tick", "size": 25, "thickness": 1, "color": "#666"}, "encoding": {"x": {"field": "k", "type": "nominal"}, "y": {"field": "lo", "type": "quantitative"}}},
{"data": {"name": "b1"}, "transform": [{"filter": "datum.med != null"}], "mark": {"type": "tick", "size": 25, "thickness": 1, "color": "#333"}, "encoding": {"x": {"field": "k", "type": "nominal"}, "y": {"field": "med", "type": "quantitative"}}},
{"data": {"name": "p1"}, "transform": [{"filter": "datum.r == 0"}], "mark": {"type": "point", "shape": "M-1,0L1,0M0,-1L0,1", "filled": false, "stroke": "black", "strokeWidth": 0.9, "size": 16, "opacity": 1},
 "encoding": {"x": {"field": "k", "type": "nominal"}, "xOffset": {"field": "j", "type": "quantitative", "scale": {"domain": [-0.5, 0.5], "range": [0, 36.8]}}, "y": {"field": "v", "type": "quantitative"}}},
{"data": {"name": "p1"}, "transform": [{"filter": "datum.r == 1"}], "mark": {"type": "point", "shape": "circle", "filled": true, "color": "black", "size": 18, "opacity": 1},
 "encoding": {"x": {"field": "k", "type": "nominal"}, "xOffset": {"field": "j", "type": "quantitative"}, "y": {"field": "v", "type": "quantitative"}}}
]},
{
"width": 184, "height": 355,
"layer": [
{"data": {"values": [{}]}, "mark": {"type": "rule", "color": "#bbb", "strokeWidth": 1.5}, "encoding": {"x": {"datum": "EnvA|27%", "type": "nominal", "bandPosition": 0}}},
{"data": {"name": "b2"}, "transform": [{"filter": "datum.q3 != null"}], "mark": {"type": "rule", "color": "#555"},
 "encoding": {"x": {"field": "k", "type": "nominal", "scale": {"domain": ["EnvA|27%","EnvB|27%","Gag|12%","Pol|42%","Nef|4%"], "paddingInner": 0, "paddingOuter": 0, "align": 0.5},
   "axis": {"labelExpr": "split(datum.value, '|')", "labelAngle": 0, "ticks": false, "labelPadding": 5, "labelLineHeight": 15, "title": ["rAd5 Alone", "(6 weeks post vaccination)"], "titlePadding": 13, "titleLineHeight": 11, "titleAlign": "center"}},
  "y": {"field": "q3", "type": "quantitative", "scale": {"domain": [-24, 824], "nice": false, "zero": false}, "axis": null},
  "y2": {"field": "hi"}}},
{"data": {"name": "b2"}, "transform": [{"filter": "datum.lo != null"}], "mark": {"type": "rule", "color": "#555"}, "encoding": {"x": {"field": "k", "type": "nominal"}, "y": {"field": "lo", "type": "quantitative"}, "y2": {"field": "q1"}}},
{"data": {"name": "b2"}, "transform": [{"filter": "datum.q1 != null"}], "mark": {"type": "bar", "size": 25, "fill": "white", "stroke": "#555", "strokeWidth": 1}, "encoding": {"x": {"field": "k", "type": "nominal"}, "y": {"field": "q1", "type": "quantitative"}, "y2": {"field": "q3"}}},
{"data": {"name": "b2"}, "mark": {"type": "tick", "size": 25, "thickness": 1, "color": "#555"}, "encoding": {"x": {"field": "k", "type": "nominal"}, "y": {"field": "hi", "type": "quantitative"}}},
{"data": {"name": "b2"}, "transform": [{"filter": "datum.lo != null"}], "mark": {"type": "tick", "size": 25, "thickness": 1, "color": "#666"}, "encoding": {"x": {"field": "k", "type": "nominal"}, "y": {"field": "lo", "type": "quantitative"}}},
{"data": {"name": "b2"}, "transform": [{"filter": "datum.med != null"}], "mark": {"type": "tick", "size": 25, "thickness": 1, "color": "#333"}, "encoding": {"x": {"field": "k", "type": "nominal"}, "y": {"field": "med", "type": "quantitative"}}},
{"data": {"name": "p2"}, "transform": [{"filter": "datum.r == 0"}], "mark": {"type": "point", "shape": "M-1,0L1,0M0,-1L0,1", "filled": false, "stroke": "black", "strokeWidth": 0.9, "size": 16, "opacity": 1},
 "encoding": {"x": {"field": "k", "type": "nominal"}, "xOffset": {"field": "j", "type": "quantitative", "scale": {"domain": [-0.5, 0.5], "range": [0, 36.8]}}, "y": {"field": "v", "type": "quantitative"}}},
{"data": {"name": "p2"}, "transform": [{"filter": "datum.r == 1"}], "mark": {"type": "point", "shape": "circle", "filled": true, "color": "black", "size": 18, "opacity": 1},
 "encoding": {"x": {"field": "k", "type": "nominal"}, "xOffset": {"field": "j", "type": "quantitative"}, "y": {"field": "v", "type": "quantitative"}}}
]},
{
"width": 206, "height": 355,
"layer": [
{"data": {"values": [{}]}, "mark": {"type": "rule", "color": "#bbb", "strokeWidth": 1.5}, "encoding": {"x": {"datum": "EnvA|56%", "type": "nominal", "bandPosition": 0}}},
{"data": {"name": "b3"}, "transform": [{"filter": "datum.q3 != null"}], "mark": {"type": "rule", "color": "#555"},
 "encoding": {"x": {"field": "k", "type": "nominal", "scale": {"domain": ["EnvA|56%","EnvB|47%","Gag|42%","Pol|22%","Nef|10%"], "paddingInner": 0, "paddingOuter": 0.2989, "align": 0},
   "axis": {"labelExpr": "split(datum.value, '|')", "labelAngle": 0, "ticks": false, "labelPadding": 5, "labelLineHeight": 15, "title": ["rAd5 Boost", "(6 weeks post vaccination)"], "titlePadding": 13, "titleLineHeight": 11, "titleX": 112, "titleAlign": "center"}},
  "y": {"field": "q3", "type": "quantitative", "scale": {"domain": [-24, 824], "nice": false, "zero": false}, "axis": null},
  "y2": {"field": "hi"}}},
{"data": {"name": "b3"}, "transform": [{"filter": "datum.lo != null"}], "mark": {"type": "rule", "color": "#555"}, "encoding": {"x": {"field": "k", "type": "nominal"}, "y": {"field": "lo", "type": "quantitative"}, "y2": {"field": "q1"}}},
{"data": {"name": "b3"}, "transform": [{"filter": "datum.q1 != null"}], "mark": {"type": "bar", "size": 25, "fill": "white", "stroke": "#555", "strokeWidth": 1}, "encoding": {"x": {"field": "k", "type": "nominal"}, "y": {"field": "q1", "type": "quantitative"}, "y2": {"field": "q3"}}},
{"data": {"name": "b3"}, "mark": {"type": "tick", "size": 25, "thickness": 1, "color": "#555"}, "encoding": {"x": {"field": "k", "type": "nominal"}, "y": {"field": "hi", "type": "quantitative"}}},
{"data": {"name": "b3"}, "transform": [{"filter": "datum.lo != null"}], "mark": {"type": "tick", "size": 25, "thickness": 1, "color": "#666"}, "encoding": {"x": {"field": "k", "type": "nominal"}, "y": {"field": "lo", "type": "quantitative"}}},
{"data": {"name": "b3"}, "transform": [{"filter": "datum.med != null"}], "mark": {"type": "tick", "size": 25, "thickness": 1, "color": "#333"}, "encoding": {"x": {"field": "k", "type": "nominal"}, "y": {"field": "med", "type": "quantitative"}}},
{"data": {"name": "p3"}, "transform": [{"filter": "datum.r == 0"}], "mark": {"type": "point", "shape": "M-1,0L1,0M0,-1L0,1", "filled": false, "stroke": "black", "strokeWidth": 0.9, "size": 16, "opacity": 1},
 "encoding": {"x": {"field": "k", "type": "nominal"}, "xOffset": {"field": "j", "type": "quantitative", "scale": {"domain": [-0.5, 0.5], "range": [0, 36.8]}}, "y": {"field": "v", "type": "quantitative"}}},
{"data": {"name": "p3"}, "transform": [{"filter": "datum.r == 1"}], "mark": {"type": "point", "shape": "circle", "filled": true, "color": "black", "size": 18, "opacity": 1},
 "encoding": {"x": {"field": "k", "type": "nominal"}, "xOffset": {"field": "j", "type": "quantitative"}, "y": {"field": "v", "type": "quantitative"}}}
]}
]
}
